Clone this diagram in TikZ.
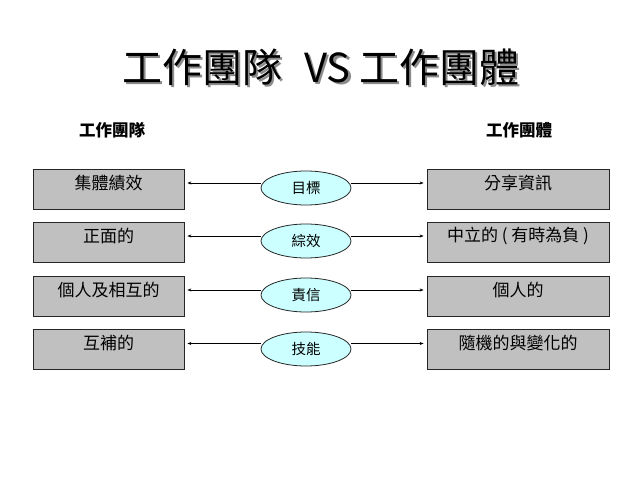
\documentclass[tikz,border=0pt]{standalone}
\usepackage{fontspec}
\setmainfont{Noto Sans CJK TC}
\usetikzlibrary{shapes.geometric,arrows.meta}
\definecolor{boxgray}{HTML}{C0C0C0}
\definecolor{ellcyan}{HTML}{CCFFFF}
\newcommand{\titletext}{工作團隊\hspace{0.55em}VS 工作團體}
\tikzset{
  box/.style={draw=black!85,fill=boxgray,line width=0.8pt,inner sep=0pt},
  lbox/.style={box,minimum width=151pt,minimum height=40pt},
  rbox/.style={box,minimum width=182pt,minimum height=40pt},
  boxtext/.style={font=\fontsize{17}{17}\selectfont,inner sep=0pt},
  ell/.style={ellipse,draw=black!85,fill=ellcyan,line width=0.8pt,minimum width=90pt,minimum height=34pt,inner sep=0pt,font=\fontsize{14.5}{14.5}\selectfont},
  conn/.style={-{Stealth[length=4pt,width=3pt]},line width=0.7pt,shorten >=3pt},
  head/.style={font=\fontsize{16.5}{16.5}\selectfont\bfseries}
}
\begin{document}
\begin{tikzpicture}[x=1pt,y=-1pt]
\useasboundingbox[fill=white] (0,0) rectangle (638,479);
% title with shadow
\node[font=\fontsize{40}{40}\selectfont] (title) at (321,68)
  {\rlap{\hspace{2.2pt}\raisebox{-2.2pt}{\color{black!45}\titletext}}\titletext};
% headings
\node[head] (hl) at (112,130) {工作團隊};
\node[head] (hr) at (519,130) {工作團體};
% left boxes
\node[lbox] (l1) at (108.5,189) {};
\node[lbox] (l2) at (108.5,242) {};
\node[lbox] (l3) at (108.5,296) {};
\node[lbox] (l4) at (108.5,349.5) {};
\node[boxtext] (l1t) at (108.5,183) {集體績效};
\node[boxtext] (l2t) at (108.5,236) {正面的};
\node[boxtext] (l3t) at (108.5,290) {個人及相互的};
\node[boxtext] (l4t) at (108.5,343.5) {互補的};
% right boxes
\node[rbox] (r1) at (518,189) {};
\node[rbox] (r2) at (518,242) {};
\node[rbox] (r3) at (518,296) {};
\node[rbox] (r4) at (518,349.5) {};
\node[boxtext] (r1t) at (518,183) {分享資訊};
\node[boxtext] (r2t) at (518,236) {中立的 ( 有時為負 )};
\node[boxtext] (r3t) at (518,290) {個人的};
\node[boxtext] (r4t) at (518,343.5) {隨機的與變化的};
% ellipses
\node[ell] (e1) at (306,188) {目標};
\node[ell] (e2) at (306,241) {綜效};
\node[ell] (e3) at (306,295) {責信};
\node[ell] (e4) at (306,349) {技能};
% connectors
\foreach \i in {1,2,3,4}{
  \draw[conn] (e\i.west |- l\i t) -- (l\i.east |- l\i t);
  \draw[conn] (e\i.east |- r\i t) -- (r\i.west |- r\i t);
}
\end{tikzpicture}
\end{document}
